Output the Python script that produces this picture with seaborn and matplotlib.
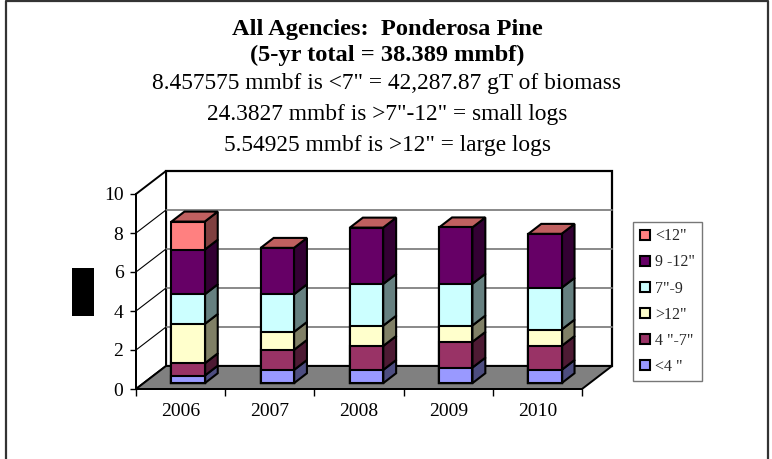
import matplotlib
matplotlib.use("Agg")
import matplotlib.pyplot as plt
import seaborn as sns
import numpy as np
from matplotlib.patches import Polygon, Rectangle
from matplotlib.lines import Line2D
from matplotlib.transforms import ScaledTranslation

# ---------------- data ----------------
years = ["2006", "2007", "2008", "2009", "2010"]
series_names = ['<4 "', '4 "-7"', '>12"', '7"-9', '9 -12"', '<12"']
under4 = [0.39, 0.68, 0.68, 0.80, 0.68]
in4_7 = [0.63, 1.03, 1.23, 1.32, 1.23]
over12 = [2.02, 0.92, 1.04, 0.84, 0.84]
in7_9 = [1.52, 1.93, 2.14, 2.14, 2.14]
in9_12 = [2.29, 2.38, 2.89, 2.89, 2.77]
lt12 = [1.44, 0.0, 0.0, 0.0, 0.0]
yticks = [0, 2, 4, 6, 8, 10]

title_lines = ["All Agencies:  Ponderosa Pine",
               "(5-yr total = 38.389 mmbf)",
               '8.457575 mmbf is <7" = 42,287.87 gT of biomass',
               '24.3827 mmbf is >7"-12" = small logs',
               '5.54925 mmbf is >12" = large logs']

front_colors = ["#9999FF", "#993366", "#FFFFCC", "#CCFFFF", "#660066", "#FF8080"]
side_colors = ["#4D4D80", "#4D1A33", "#808066", "#668080", "#330033", "#804040"]
top_color = "#C06060"

# ---------------- figure ----------------
sns.set_theme(style="white")
plt.rcParams["font.family"] = ["Liberation Serif", "DejaVu Serif"]
W, H = 772, 459
fig = plt.figure(figsize=(W / 100, H / 100), dpi=100)
ax = fig.add_axes([136 / W, (H - 389) / H, 446 / W, 195 / H])
ax.patch.set_visible(False)

layers = [under4, in4_7, over12, in7_9, in9_12, lt12]
cum = np.cumsum(np.array(layers), axis=0)

bar_w = 0.373
# front faces: draw cumulative totals from top layer down
for i in range(len(layers) - 1, -1, -1):
    sns.barplot(x=years, y=cum[i], order=years, color=front_colors[i], saturation=1,
                width=bar_w, edgecolor="black", linewidth=1.5, errorbar=None, ax=ax)

ax.set_xlim(-0.5, 4.5)
ax.set_ylim(0, 10)

# offsets (pixels) for the pseudo-3D look
FRONT = (7.5, 5.75)     # bar front plane relative to the axis plane
BDEP = (13.0, 10.0)     # bar depth
WALL = (30.0, 23.0)     # back wall relative to axis plane

front_tr = ax.transData + ScaledTranslation(FRONT[0] / 100, FRONT[1] / 100, fig.dpi_scale_trans)
for p in ax.patches:
    p.set_transform(front_tr)
    p.set_clip_on(False)
    p.set_zorder(5)


def pt(x, y, dx=0.0, dy=0.0):
    px, py = ax.transData.transform((x, y))
    return ((px + dx) / fig.dpi, (py + dy) / fig.dpi)


def poly(points, **kw):
    pg = Polygon(points, closed=True, transform=fig.dpi_scale_trans, clip_on=False, **kw)
    ax.add_patch(pg)
    return pg


def line(points, **kw):
    xs = [p[0] for p in points]
    ys = [p[1] for p in points]
    ln = Line2D(xs, ys, transform=fig.dpi_scale_trans, clip_on=False, **kw)
    ax.add_line(ln)


x0, x1 = -0.5, 4.5
ymax = 10
# back wall
poly([pt(x0, 0, *WALL), pt(x1, 0, *WALL), pt(x1, ymax, *WALL), pt(x0, ymax, *WALL)],
     facecolor="white", edgecolor="black", linewidth=1.6, zorder=1)
for yv in yticks[1:-1]:
    line([pt(x0, yv, *WALL), pt(x1, yv, *WALL)], color="#808080", linewidth=1.3, zorder=1.2)
# left side wall
poly([pt(x0, 0), pt(x0, ymax), pt(x0, ymax, *WALL), pt(x0, 0, *WALL)],
     facecolor="white", edgecolor="black", linewidth=1.4, zorder=1.1)
for yv in yticks[1:-1]:
    line([pt(x0, yv), pt(x0, yv, *WALL)], color="black", linewidth=0.8, zorder=1.2)
# floor
poly([pt(x0, 0), pt(x1, 0), pt(x1, 0, *WALL), pt(x0, 0, *WALL)],
     facecolor="#808080", edgecolor="black", linewidth=1.4, zorder=1.3)

# side and top faces of bars
for j in range(len(years)):
    xr = j + bar_w / 2
    xl = j - bar_w / 2
    bottom = 0.0
    for i, vals in enumerate(layers):
        v = vals[j]
        if v > 0:
            top = bottom + v
            poly([pt(xr, bottom, *FRONT), pt(xr, top, *FRONT),
                  pt(xr, top, FRONT[0] + BDEP[0], FRONT[1] + BDEP[1]),
                  pt(xr, bottom, FRONT[0] + BDEP[0], FRONT[1] + BDEP[1])],
                 facecolor=side_colors[i], edgecolor="black", linewidth=1.5, zorder=4)
            bottom = top
    poly([pt(xl, bottom, *FRONT), pt(xr, bottom, *FRONT),
          pt(xr, bottom, FRONT[0] + BDEP[0], FRONT[1] + BDEP[1]),
          pt(xl, bottom, FRONT[0] + BDEP[0], FRONT[1] + BDEP[1])],
         facecolor=top_color, edgecolor="black", linewidth=1.5, zorder=4)

# axes styling
for s in ["top", "right"]:
    ax.spines[s].set_visible(False)
for s in ["left", "bottom"]:
    ax.spines[s].set_color("black")
    ax.spines[s].set_linewidth(1.3)
    ax.spines[s].set_zorder(6)
ax.set_yticks(yticks)
ax.set_yticklabels([str(t) for t in yticks])
ax.set_xticks(range(len(years)))
ax.set_xticklabels(years)
ax.set_xticks(np.arange(-0.5, len(years), 1.0), minor=True)
ax.tick_params(axis="y", direction="out", length=4, width=1, color="black",
               pad=5, labelsize=14, labelcolor="black", left=True)
ax.tick_params(axis="x", which="major", length=0, pad=10, labelsize=14, labelcolor="black")
ax.tick_params(axis="x", which="minor", direction="out", length=5, width=1,
               color="black", bottom=True)
ax.set_xlabel("")
ax.set_ylabel("")
ax.grid(False)

# titles
cx = 387 / W
ys_px = [29, 55, 84, 115, 145]
for k, (txt, ypx) in enumerate(zip(title_lines, ys_px)):
    fig.text(cx, 1 - ypx / H, txt, ha="center", va="center",
             fontsize=17.6 if k < 2 else 16.8,
             fontweight="bold" if k < 2 else "normal", color="black")

# legend
handles = [Line2D([], [], marker="s", linestyle="none", markersize=6.5,
                  markerfacecolor=front_colors[i], markeredgecolor="black",
                  markeredgewidth=1.5) for i in range(len(layers) - 1, -1, -1)]
labels = [series_names[i] for i in range(len(layers) - 1, -1, -1)]
leg = fig.legend(handles, labels, loc="upper left", bbox_to_anchor=(633 / W, 1 - 222 / H),
                 borderaxespad=0, fontsize=11.5, frameon=True, fancybox=False,
                 edgecolor="#555555", handlelength=0.7, handletextpad=0.3,
                 labelspacing=0.63, borderpad=0.4)
leg.get_frame().set_linewidth(1.0)

# black block at left and outer border
fig.patches.append(Rectangle((72 / W, (H - 316) / H), 22 / W, 48 / H,
                             transform=fig.transFigure, facecolor="black",
                             edgecolor="none", zorder=10))
fig.lines.append(Line2D([6 / W, 6 / W, 768 / W, 768 / W], [0, 1 - 1 / H, 1 - 1 / H, 0],
                        transform=fig.transFigure, color="#333333", linewidth=1.6))

fig.savefig("out.png", dpi=100)
